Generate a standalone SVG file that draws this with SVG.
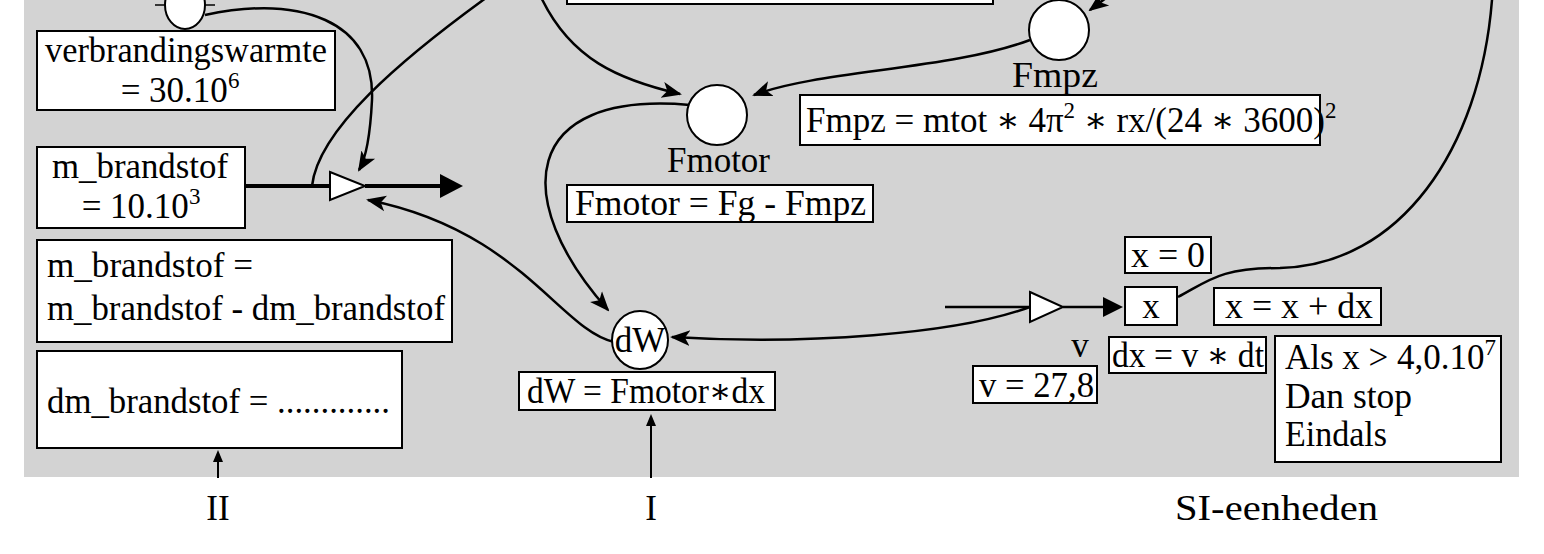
<svg xmlns="http://www.w3.org/2000/svg" width="1544" height="554" viewBox="0 0 1544 554" font-family="'Liberation Serif', 'DejaVu Serif', serif">
<style>
text{font-family:'Liberation Serif','DejaVu Serif',serif;font-size:35px;fill:#000}
.b{fill:#fff;stroke:#000;stroke-width:2}
.c{fill:none;stroke:#000;stroke-width:2.5}
.f{fill:none;stroke:#000;stroke-width:4}
.m{text-anchor:middle}
</style>
<defs>
<marker id="a" viewBox="0 0 20 20" refX="18" refY="10" markerWidth="20" markerHeight="20" markerUnits="userSpaceOnUse" orient="auto"><path d="M0,2 L20,10 L0,18 L5,10 z" fill="#000"/></marker>
</defs>
<rect x="24" y="0" width="1495" height="477" fill="#d3d3d3"/>
<g id="connectors">
<path class="c" d="M205,15 C300,-5 375,20 372,100 C370,140 365,160 359,170" marker-end="url(#a)"/>
<path class="c" d="M312,186 C318,130 400,60 490,-5"/>
<path class="c" d="M540,-5 C570,60 620,80 680,94" marker-end="url(#a)"/>
<path class="c" d="M1030,40 C950,70 820,70 754,95" marker-end="url(#a)"/>
<path class="c" d="M690,105 C520,90 510,200 608,310" marker-end="url(#a)"/>
<path class="c" d="M614,342 C560,330 520,230 368,200" marker-end="url(#a)"/>
<path class="c" d="M1035,305 C960,335 800,345 672,337" marker-end="url(#a)"/>
<path class="c" d="M1110,-5 L1090,10" marker-end="url(#a)"/>
<path class="c" d="M1178,297 C1210,280 1220,268 1280,268 C1400,265 1480,150 1492,0"/>
<path class="f" d="M245,186 L330,186 M365,186 L442,186"/>
<path d="M440,174 L463,186 L440,198 z" fill="#000"/>
<path class="c" d="M945,307 L1030,307 M1063,307 L1105,307"/>
<path d="M1103,297 L1123,307 L1103,317 z" fill="#000"/>
<path stroke="#000" stroke-width="2" d="M218,478 L218,458"/><path d="M213,462 L218,450 L223,462 z"/>
<path stroke="#000" stroke-width="2" d="M651,478 L651,422"/><path d="M646,426 L651,414 L656,426 z"/>
</g>
<g id="verbranding_valve"><line x1="155" y1="5" x2="215" y2="5" stroke="#000" stroke-width="1.5"/><ellipse class="b" cx="185" cy="5" rx="20" ry="24"/></g>
<g id="verbrandingswarmte"><rect class="b" x="37" y="31" width="298" height="79"/><text x="45" y="62" textLength="282" lengthAdjust="spacingAndGlyphs">verbrandingswarmte</text><text class="m" x="180" y="102">= 30.10<tspan font-size="23" dy="-14">6</tspan></text></g>
<g id="m_brandstof"><rect class="b" x="37" y="147" width="208" height="81"/><text x="52" y="178" textLength="176" lengthAdjust="spacingAndGlyphs">m_brandstof</text><text class="m" x="141" y="218">= 10.10<tspan font-size="23" dy="-14">3</tspan></text></g>
<g id="valve1"><path class="b" stroke-width="1.5" d="M330,172 L365,186 L330,200 z"/></g>
<g id="m_eq"><rect class="b" x="37" y="240" width="415" height="102"/><text x="47" y="277" textLength="206" lengthAdjust="spacingAndGlyphs">m_brandstof =</text><text x="47" y="320" textLength="398" lengthAdjust="spacingAndGlyphs">m_brandstof - dm_brandstof</text></g>
<g id="dm_eq"><rect class="b" x="37" y="351" width="365" height="97"/><text x="47" y="413" textLength="343" lengthAdjust="spacingAndGlyphs">dm_brandstof = .............</text></g>
<g id="topbox"><rect class="b" x="567" y="-10" width="426" height="14"/></g>
<g id="Fmotor"><ellipse class="b" cx="717" cy="115" rx="30" ry="30"/><text x="667" y="172" textLength="103" lengthAdjust="spacingAndGlyphs">Fmotor</text><rect class="b" x="567" y="185" width="306" height="37"/><text x="575" y="215" textLength="291" lengthAdjust="spacingAndGlyphs">Fmotor = Fg - Fmpz</text></g>
<g id="Fmpz"><ellipse class="b" cx="1059" cy="30" rx="30" ry="30"/><text x="1012" y="87" textLength="86" lengthAdjust="spacingAndGlyphs">Fmpz</text><rect class="b" x="800" y="95" width="520" height="50"/><text x="806" y="132">Fmpz = mtot ∗ 4π<tspan font-size="23" dy="-14">2</tspan><tspan dy="14"> ∗ rx/(24 ∗ 3600)</tspan><tspan font-size="23" dy="-14">2</tspan></text></g>
<g id="dW"><ellipse class="b" cx="640" cy="340" rx="28" ry="29"/><text class="m" x="640" y="352" font-size="32">dW</text><rect class="b" x="519" y="372" width="256" height="38"/><text x="527" y="403" textLength="238" lengthAdjust="spacingAndGlyphs">dW = Fmotor∗dx</text></g>
<g id="v"><path class="b" stroke-width="1.5" d="M1030,292 L1063,307 L1030,322 z"/><text class="m" x="1080" y="357">v</text><rect class="b" x="973" y="366" width="124" height="37"/><text x="979" y="397" textLength="115" lengthAdjust="spacingAndGlyphs">v = 27,8</text></g>
<g id="x"><rect class="b" x="1125" y="287" width="52" height="38"/><text class="m" x="1151" y="318">x</text><rect class="b" x="1125" y="237" width="86" height="36"/><text x="1131" y="267" textLength="74" lengthAdjust="spacingAndGlyphs">x = 0</text><rect class="b" x="1214" y="288" width="167" height="37"/><text x="1225" y="318" textLength="148" lengthAdjust="spacingAndGlyphs">x = x + dx</text></g>
<g id="dx"><rect class="b" x="1109" y="337" width="157" height="36"/><text x="1112" y="367" textLength="152" lengthAdjust="spacingAndGlyphs">dx = v ∗ dt</text></g>
<g id="stop"><rect class="b" x="1275" y="336" width="226" height="126"/><text x="1285" y="369">Als x &gt; 4,0.10<tspan font-size="23" dy="-14">7</tspan></text><text x="1285" y="408" textLength="127" lengthAdjust="spacingAndGlyphs">Dan stop</text><text x="1285" y="446" textLength="102" lengthAdjust="spacingAndGlyphs">Eindals</text></g>
<g id="labels"><text class="m" x="218" y="520" font-size="40">II</text><text class="m" x="651" y="520" font-size="40">I</text><text x="1175" y="520" font-size="40" textLength="203" lengthAdjust="spacingAndGlyphs">SI-eenheden</text></g>
</svg>
